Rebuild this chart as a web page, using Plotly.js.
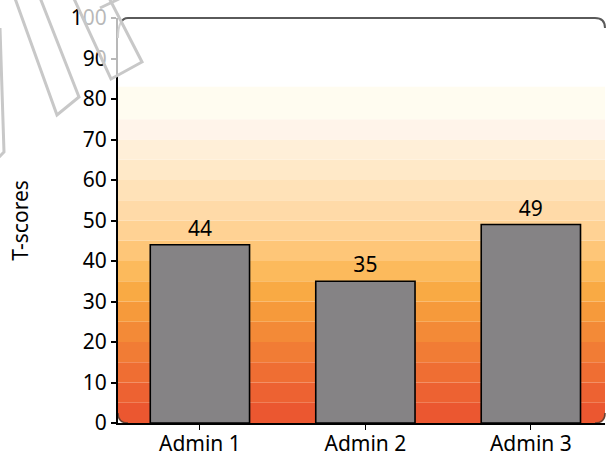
<!DOCTYPE html>
<html>
<head>
<meta charset="utf-8">
<script src="https://cdn.plot.ly/plotly-3.0.1.min.js"></script>
<style>html,body{margin:0;padding:0;background:#fff;}#chart{width:607px;height:460px;}</style>
</head>
<body>
<div id="chart"></div>
<script>
// ---- data ----
const categories = ["Admin 1", "Admin 2", "Admin 3"];
const tScores = [44, 35, 49];
const yTickValues = [0, 10, 20, 30, 40, 50, 60, 70, 80, 90, 100];

// ---- style ----
const W = 607, H = 460;
const M = {l: 118, r: 2, t: 18, b: 37};
const PW = W - M.l - M.r, PH = H - M.t - M.b;
const FONT = "Noto Sans, DejaVu Sans, sans-serif";
const FS = 21;
const bandColors = ["#eb5730","#ed6232","#ef6e33","#f17c35","#f38a37","#f69a3b","#f9aa44","#fcba5c",
                    "#fec678","#ffd294","#ffdaa8","#ffe2b8","#ffe9c8","#ffefd8","#fff4ea","#fffcf0"];

function px(x, y) { return ((x - M.l) / PW).toFixed(4) + "," + ((H - M.b - y) / PH).toFixed(4); }
function pathPx(pts, close) { return "M" + pts.map(p => px(p[0], p[1])).join(" L") + (close ? " Z" : ""); }

const shapes = [];
// gradient background bands
const step = 0.05;
bandColors.forEach((c, i) => {
  const y0 = i * step;
  const y1 = (i === bandColors.length - 1) ? 0.83 : (i + 1) * step;
  shapes.push({type: "rect", xref: "paper", yref: "paper", x0: 0, x1: 1, y0: y0, y1: y1,
               fillcolor: c, line: {width: 0}, layer: "below"});
});
// rounded bottom corners
const rx = 10 / PW, ry = 10 / PH;
shapes.push({type: "path", xref: "paper", yref: "paper", layer: "below",
  path: `M0,0 L${rx},0 Q0,0 0,${ry} Z`, fillcolor: "#ffffff", line: {width: 0}});
shapes.push({type: "path", xref: "paper", yref: "paper", layer: "below",
  path: `M${rx},0 Q0,0 0,${ry}`, line: {color: "#6a4030", width: 1.5}});
shapes.push({type: "path", xref: "paper", yref: "paper", layer: "below",
  path: `M1,0 L${1 - rx},0 Q1,0 1,${ry} Z`, fillcolor: "#ffffff", line: {width: 0}});
shapes.push({type: "path", xref: "paper", yref: "paper", layer: "below",
  path: `M${1 - rx},0 Q1,0 1,${ry}`, line: {color: "#6a4030", width: 1.5}});
// top border with rounded corners
shapes.push({type: "path", xref: "paper", yref: "paper", layer: "above",
  path: `M0,${1 - 2 * ry} Q0,1 ${rx},1 L${1 - rx},1 Q1,1 1,${1 - ry}`,
  line: {color: "#5a5a5a", width: 2}});
// faint watermark outlines (top-left)
const wm = {fillcolor: "rgba(255,255,255,0.72)", line: {color: "#c8c8c8", width: 3}, layer: "above", xref: "paper", yref: "paper", type: "path"};
shapes.push(Object.assign({}, wm, {path: pathPx([[12,-10],[57,115],[79,97],[37,-10]], true)}));
shapes.push(Object.assign({}, wm, {path: pathPx([[70,-10],[111,79],[142,62],[105,-10]], true)}));
shapes.push(Object.assign({}, wm, {path: pathPx([[100,8],[119,-1]], false), fillcolor: "rgba(0,0,0,0)"}));
shapes.push(Object.assign({}, wm, {path: pathPx([[0,28],[4,152],[-6,162]], false), fillcolor: "rgba(0,0,0,0)"}));

const trace = {
  type: "bar",
  x: categories,
  y: tScores,
  text: tScores.map(String),
  textposition: "outside",
  cliponaxis: false,
  textfont: {family: FONT, size: FS, color: "#000"},
  marker: {color: "#858385", line: {color: "#000", width: 1.6}},
  width: 0.6,
  hoverinfo: "skip"
};

const layout = {
  width: W, height: H,
  margin: M,
  paper_bgcolor: "#ffffff",
  plot_bgcolor: "rgba(0,0,0,0)",
  showlegend: false,
  font: {family: FONT, size: FS, color: "#000"},
  xaxis: {
    type: "category",
    range: [-0.495, 2.448],
    showgrid: false, zeroline: false,
    showline: true, linecolor: "#000", linewidth: 2,
    ticks: "outside", ticklen: 5, tickwidth: 1, tickcolor: "#000",
    tickfont: {family: FONT, size: FS, color: "#000"},
    ticklabelstandoff: -4,
    fixedrange: true
  },
  yaxis: {
    range: [0, 100],
    tickvals: yTickValues,
    showgrid: false, zeroline: false,
    showline: true, linecolor: "#000", linewidth: 2,
    ticks: "outside", ticklen: 5, tickwidth: 2, tickcolor: "#000",
    tickfont: {family: FONT, size: FS, color: "#000"},
    title: {text: "T-scores", font: {family: FONT, size: FS, color: "#000"}, standoff: 36},
    fixedrange: true
  },
  yaxis2: {
    range: [0, 100],
    tickvals: yTickValues,
    overlaying: "y", side: "left", anchor: "x",
    showgrid: false, zeroline: false, showline: false,
    ticks: "inside", ticklen: 4, tickwidth: 2, tickcolor: "#000",
    showticklabels: false, fixedrange: true
  },
  shapes: shapes
};

Plotly.newPlot("chart", [trace], layout, {displayModeBar: false, staticPlot: true});
</script>
</body>
</html>
